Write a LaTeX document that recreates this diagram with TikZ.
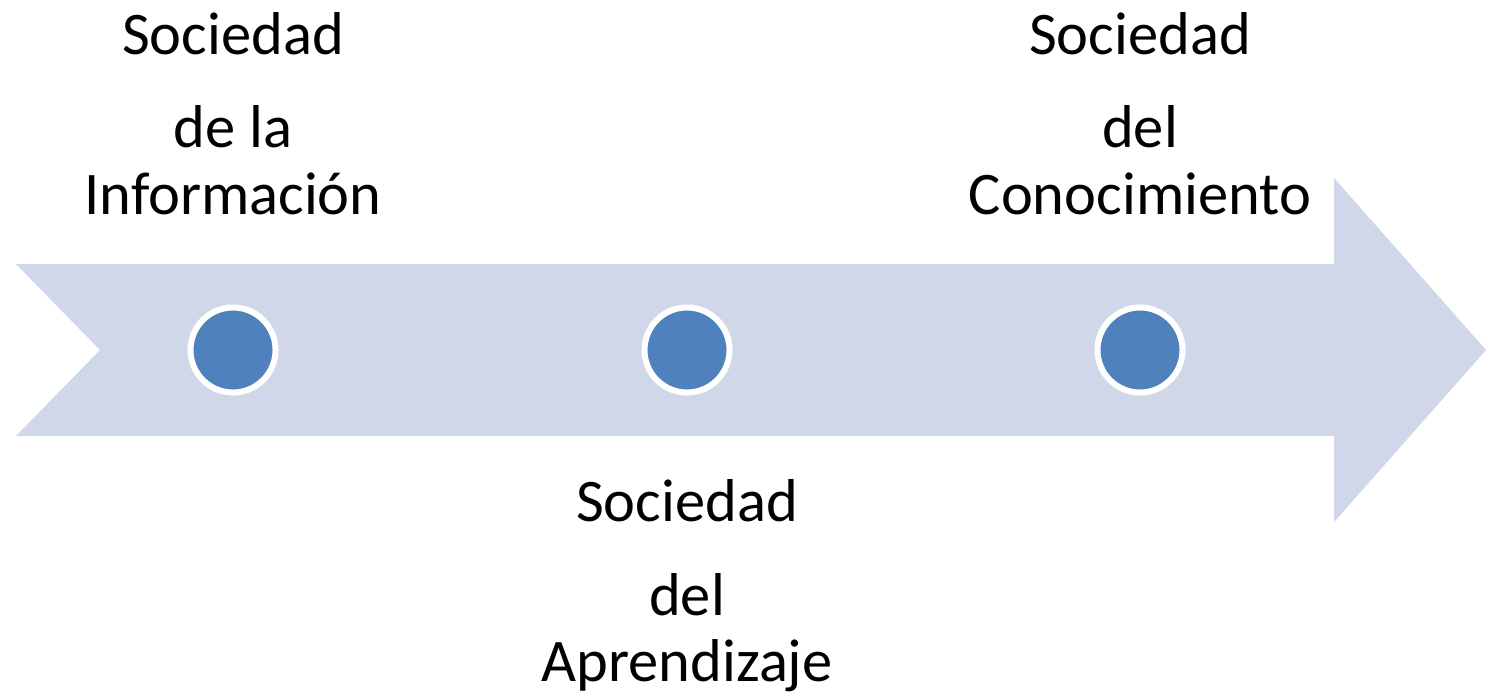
\documentclass[tikz,border=0pt]{standalone}
\usepackage{fontspec}
\setmainfont{Carlito}
\definecolor{arrowfill}{RGB}{207,215,232}
\definecolor{dotblue}{RGB}{79,129,189}
\begin{document}
\begin{tikzpicture}[x=0.01cm,y=-0.01cm,
  lbl/.style={inner sep=0pt,anchor=base,font=\fontsize{17.2}{20}\selectfont,text=black},
  dot/.style={circle,fill=dotblue,draw=white,line width=0.06cm,minimum size=0.85cm,inner sep=0pt}]
\useasboundingbox (0,0) rectangle (1486,691);
% timeline arrow
\fill[arrowfill] (16,264) -- (1334,264) -- (1334,178) -- (1486,350) -- (1334,522) -- (1334,436) -- (16,436) -- (100,350) -- cycle;
% dots
\node[dot] (d1) at (233,350) {};
\node[dot] (d2) at (687,350) {};
\node[dot] (d3) at (1140,350) {};
% labels
\node[lbl] (a1) at (233,55) {Sociedad};
\node[lbl] (a2) at (233,148) {de la};
\node[lbl] (a3) at (233,214) {Información};
\node[lbl] (b1) at (687,521) {Sociedad};
\node[lbl] (b2) at (687,615) {del};
\node[lbl] (b3) at (687,681) {Aprendizaje};
\node[lbl] (c1) at (1140,55) {Sociedad};
\node[lbl] (c2) at (1140,148) {del};
\node[lbl] (c3) at (1140,214) {Conocimiento};
\end{tikzpicture}
\end{document}
